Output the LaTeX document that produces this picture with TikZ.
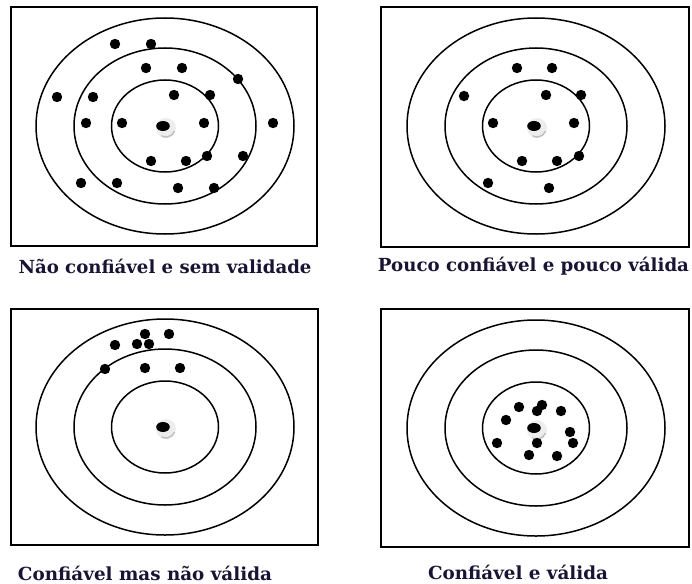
\documentclass[tikz,border=0pt]{standalone}
\usepackage{fontspec}
\usepackage{graphicx}
\newfontfamily\labfont{DejaVu Serif}
\definecolor{labcol}{rgb}{0.1,0.08,0.2}
\tikzset{
  frame/.style={draw=black, line width=2pt},
  ring/.style={draw=black, line width=1.5pt},
  shot/.style={fill=black},
  caption/.style={inner sep=0pt, text=labcol, font=\labfont\bfseries\fontsize{18}{21}\selectfont},
}
\newcommand\mytarget[2]{%
  \begin{scope}[shift={(#1,#2)}]
    \draw[ring] (1,0) ellipse[x radius=129pt, y radius=108pt];
    \draw[ring] (1,0) ellipse[x radius=91pt, y radius=78pt];
    \draw[ring] (1,0) ellipse[x radius=53.5pt, y radius=46pt];
    \fill[gray!14] (2,2) circle[radius=10pt];
    \draw[gray!50, line width=1.4pt] (2,2) ++(-20:9pt) arc[start angle=-20, end angle=-120, radius=9pt];
    \fill[black] (-1,0) ellipse[x radius=6.8pt, y radius=5pt];
  \end{scope}}
\newcommand\shots[1]{\foreach \p in {#1} {\fill[shot] \p circle[radius=5.2pt];}}
\begin{document}
\begin{tikzpicture}[x=1pt,y=-1pt]
\useasboundingbox (0,0) rectangle (692,583);
\fill[white] (0,0) rectangle (692,583);
% panel 1
\draw[frame] (11,7) rectangle (317,246);
\mytarget{164}{126}
\shots{(115,44),(151,44),(146,68),(182,68),(238,79),(57,97),(93,97),(174,95),(210,95),(86,123),(122,123),(204,123),(273,123),(151,161),(186,161),(207,156),(243,156),(81,183),(117,183),(178,188),(214,188)}
\node[caption] (l1) at (165,266) {\resizebox{293pt}{\height}{Não confiável e sem validade}};
% panel 2
\draw[frame] (381,7) rectangle (689,247);
\mytarget{535}{126}
\shots{(517,68),(552,68),(464,96),(546,95),(581,95),(493,123),(574,123),(522,161),(557,161),(579,156),(488,183),(549,188)}
\node[caption] (l2) at (533.5,266) {\resizebox{311pt}{\height}{Pouco confiável e pouco válida}};
% panel 3
\draw[frame] (11,309) rectangle (318,545);
\mytarget{164}{427}
\shots{(115,345),(145,334),(169,334),(137,344),(149,344),(105,369),(145,368),(180,368)}
\node[caption] (l3) at (145,573) {\resizebox{254pt}{\height}{Confiável mas não válida}};
% panel 4
\draw[frame] (381,309) rectangle (689,547);
\mytarget{535}{428}
\shots{(519,407),(542,405),(537,411),(561,411),(506,420),(570,432),(573,443),(497,443),(537,443),(529,455),(557,456)}
\node[caption] (l4) at (518,572) {\resizebox{180pt}{\height}{Confiável e válida}};
\end{tikzpicture}
\end{document}
